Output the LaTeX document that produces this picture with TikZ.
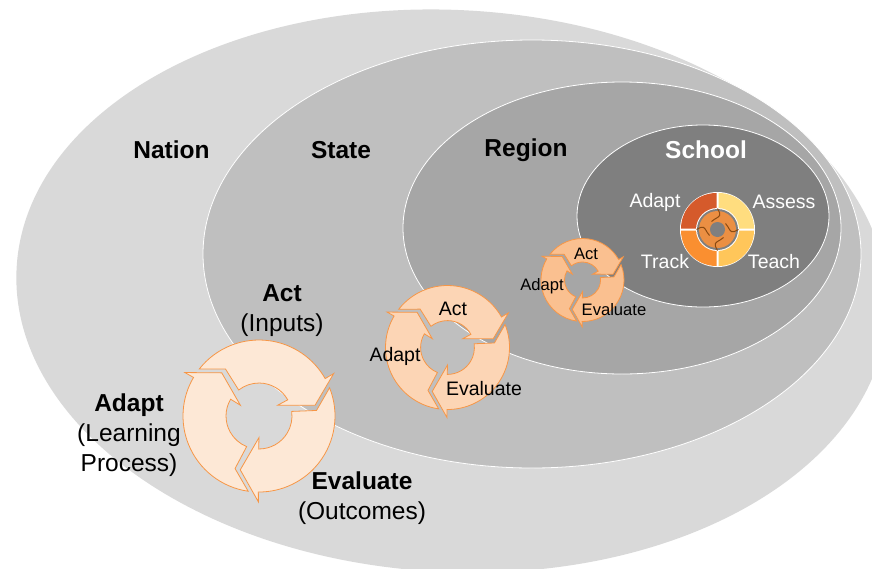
\documentclass[tikz,border=0pt]{standalone}
\usepackage{fontspec}
\setmainfont{Liberation Sans}
\definecolor{nationgray}{HTML}{D9D9D9}
\definecolor{stategray}{HTML}{BFBFBF}
\definecolor{regiongray}{HTML}{A6A6A6}
\definecolor{schoolgray}{HTML}{7F7F7F}
\definecolor{cycleline}{HTML}{F79646}
\definecolor{tinyline}{HTML}{8A4A12}
\tikzset{
  level/.style={draw=white,line width=0.8pt},
  bigtext/.style={font=\fontsize{24.5}{30}\selectfont,align=center,inner sep=0pt},
  midtext/.style={font=\fontsize{19.5}{22}\selectfont,inner sep=0pt},
  smalltext/.style={font=\fontsize{16.6}{20}\selectfont,inner sep=0pt},
  cyclearrow/.pic={
    \path[pic actions] (141.8:1) arc (141.8:29.5:1) -- (29.6:1.13) -- (10.8:.75) -- (30:.283)
      -- (29.4:.434) arc (29.4:128:.434) -- (125.5:.76) -- cycle;
  }
}
\begin{document}
\begin{tikzpicture}[x=1pt,y=1pt]
    \useasboundingbox (0,-568) rectangle (872,0);
    \clip (0,-568) rectangle (872,0);

    \fill[nationgray,rotate around={-3:(452,-291)}] (452,-291) ellipse [x radius=436, y radius=281];
    \draw[level,fill=stategray] (532,-254) ellipse [x radius=329, y radius=214];
    \draw[level,fill=regiongray] (622,-228) ellipse [x radius=219, y radius=146];
    \draw[level,fill=schoolgray] (703,-216) ellipse [x radius=126, y radius=91];

    \node[bigtext,font=\fontsize{24.5}{30}\selectfont\bfseries] (nation) at (171.5,-150) {Nation};
    \node[bigtext,font=\fontsize{24.5}{30}\selectfont\bfseries] (state) at (341,-150) {State};
    \node[bigtext,font=\fontsize{24.5}{30}\selectfont\bfseries] (region) at (526,-150) {Region};
    \node[bigtext,font=\fontsize{24.5}{30}\selectfont\bfseries,white] (school) at (706,-150) {School};

    % cycles, biggest to smallest
    \foreach \a in {0,120,240}
      \pic[draw=cycleline,fill=cycleline!22!white,line width=0.8pt,shift={(259,-416)},rotate=-\a,scale=76] {cyclearrow};
    \foreach \a in {0,120,240}
      \pic[draw=cycleline,fill=cycleline!40!white,line width=0.8pt,shift={(447.5,-347.5)},rotate=-\a,scale=62] {cyclearrow};
    \foreach \a in {0,120,240}
      \pic[draw=cycleline,fill=cycleline!60!white,line width=0.8pt,shift={(582.5,-280)},rotate=-\a,scale=41.5] {cyclearrow};

    \node[bigtext] (actbig) at (282,-311) {\textbf{Act}\\(Inputs)};
    \node[bigtext] (adaptbig) at (129,-435) {\textbf{Adapt}\\(Learning\\Process)};
    \node[bigtext] (evalbig) at (362,-498) {\textbf{Evaluate}\\(Outcomes)};

    \node[midtext] (actmid) at (453,-309) {Act};
    \node[midtext] (adaptmid) at (395,-356) {Adapt};
    \node[midtext] (evalmid) at (484,-389) {Evaluate};

    \node[smalltext] (actsmall) at (586,-254) {Act};
    \node[smalltext] (adaptsmall) at (542,-286) {Adapt};
    \node[smalltext] (evalsmall) at (614,-310) {Evaluate};

    % school dial
    \begin{scope}[shift={(717.5,-229.5)}]
      \fill[white] (0,0) circle (37.5);
      \fill[fill={rgb,255:red,213;green,90;blue,43}] (-1,1) -- (-36.5,1) arc (180:90:35.5) -- cycle;
      \fill[fill={rgb,255:red,255;green,221;blue,127}] (1,1) -- (1,36.5) arc (90:0:35.5) -- cycle;
      \fill[fill={rgb,255:red,255;green,198;blue,90}] (1,-1) -- (36.5,-1) arc (0:-90:35.5) -- cycle;
      \fill[fill={rgb,255:red,250;green,143;blue,48}] (-1,-1) -- (-1,-36.5) arc (-90:-180:35.5) -- cycle;
      \fill[white] (0,0) circle (21.5);
      \fill[schoolgray] (0,0) circle (20.5);
      \fill[cycleline!95!black] (0,0) circle (18.5);
      \fill[schoolgray] (0,0) circle (7.5);
      \foreach \a in {0,90,180,270}
        \draw[tinyline,line width=1pt,rotate=\a] (0,21) -- (2,17) .. controls (4,12) and (-2,12) .. (-6,8);
    \end{scope}
    \node[midtext,white] (adaptdial) at (655,-202) {Adapt};
    \node[midtext,white] (assessdial) at (784,-202) {Assess};
    \node[midtext,white] (trackdial) at (665,-262) {Track};
    \node[midtext,white] (teachdial) at (774,-262) {Teach};
\end{tikzpicture}
\end{document}
